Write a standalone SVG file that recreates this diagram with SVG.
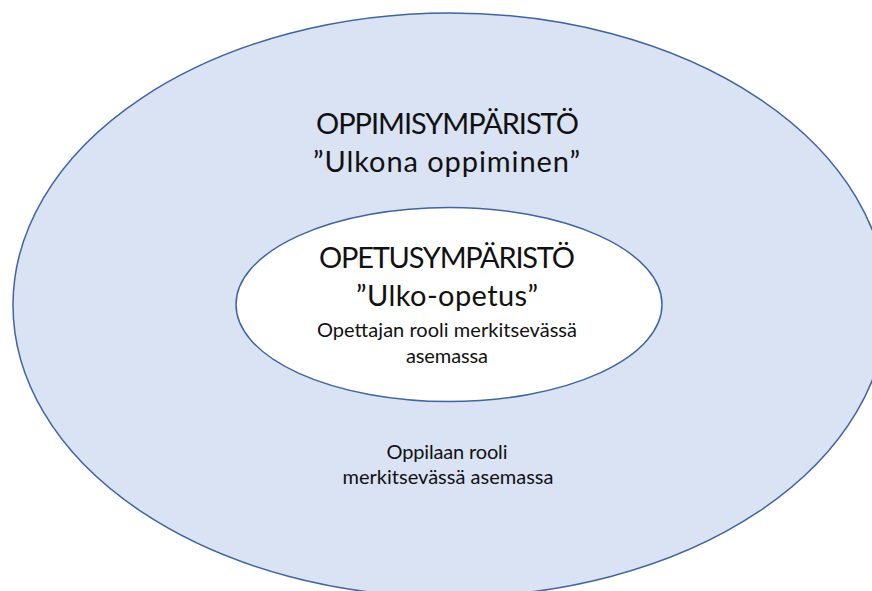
<svg xmlns="http://www.w3.org/2000/svg" width="872" height="591" viewBox="0 0 872 591">
  <style>
    .ring { stroke: #3F64A3; stroke-width: 1.5; }
    .t { font-family: Lato, "Open Sans", "Liberation Sans", sans-serif; fill: #111111; text-anchor: middle; }
    .big { font-size: 29px; }
    .small { font-size: 20px; }
  </style>
  <rect x="0" y="0" width="872" height="591" fill="#FFFFFF"/>
  <g id="oppimisymparisto">
    <ellipse class="ring" cx="450" cy="305" rx="437" ry="292" fill="#DAE3F3"/>
    <text class="t big" x="447.5" y="134" textLength="263" lengthAdjust="spacing">OPPIMISYMPÄRISTÖ</text>
    <text class="t big" x="446.5" y="171.5" textLength="267" lengthAdjust="spacing">”Ulkona oppiminen”</text>
    <text class="t small" x="447" y="459" textLength="121" lengthAdjust="spacing">Oppilaan rooli</text>
    <text class="t small" x="448" y="484" textLength="211" lengthAdjust="spacing">merkitsevässä asemassa</text>
  </g>
  <g id="opetusymparisto">
    <ellipse class="ring" cx="449" cy="304.5" rx="213" ry="97" fill="#FFFFFF"/>
    <text class="t big" x="447" y="268" textLength="256" lengthAdjust="spacing">OPETUSYMPÄRISTÖ</text>
    <text class="t big" x="447" y="306" textLength="182" lengthAdjust="spacing">”Ulko-opetus”</text>
    <text class="t small" x="447" y="337" textLength="260" lengthAdjust="spacing">Opettajan rooli merkitsevässä</text>
    <text class="t small" x="447" y="363" textLength="82" lengthAdjust="spacing">asemassa</text>
  </g>
  <g id="connectors"/>
</svg>
